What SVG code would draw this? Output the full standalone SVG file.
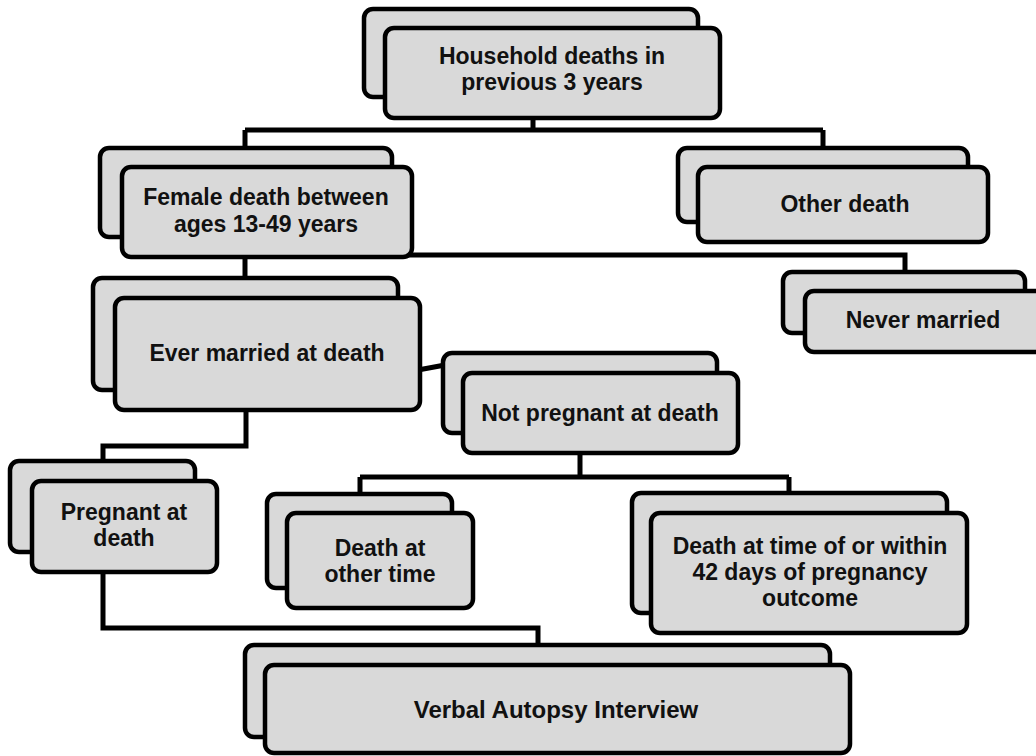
<svg xmlns="http://www.w3.org/2000/svg" width="1036" height="756" viewBox="0 0 1036 756">
<style>
.box{fill:#d9d9d9;stroke:#000;stroke-width:4.5}
.c{fill:none;stroke:#000;stroke-width:5;stroke-linejoin:miter;stroke-linecap:butt}
text{font-family:"Liberation Sans",Arial,sans-serif;font-weight:bold;font-size:23px;fill:#111;text-anchor:middle}
</style>
<rect width="1036" height="756" fill="#fff"/>
<g id="connectors">
<path class="c" d="M533 118V130M245 130H823M245 130V148M823 130V148"/>
<path class="c" d="M245 250V255H905V273"/>
<path class="c" d="M245 257V280"/>
<path class="c" d="M418 370L445 365"/>
<path class="c" d="M246 410V446H103V462"/>
<path class="c" d="M580 453V477M360 477H789M360 477V495M789 477V494"/>
<path class="c" d="M103 572V628H538V646"/>
</g>
<g id="n-household">
<rect class="box" x="364" y="9" width="334" height="88" rx="9"/>
<rect class="box" x="385" y="28" width="335" height="90" rx="9"/>
<text x="552" y="64">Household deaths in</text>
<text x="552" y="90">previous 3 years</text>
</g>
<g id="n-female">
<rect class="box" x="100" y="148" width="292" height="89" rx="9"/>
<rect class="box" x="122" y="167" width="290" height="90" rx="9"/>
<text x="266" y="205">Female death between</text>
<text x="266" y="232">ages 13-49 years</text>
</g>
<g id="n-other">
<rect class="box" x="678" y="148" width="290" height="74" rx="9"/>
<rect class="box" x="698" y="167" width="290" height="75" rx="9"/>
<text x="845" y="212">Other death</text>
</g>
<g id="n-never">
<rect class="box" x="783" y="272" width="242" height="61" rx="9"/>
<rect class="box" x="805" y="291" width="245" height="61" rx="9"/>
<text x="923" y="328">Never married</text>
</g>
<g id="n-ever">
<rect class="box" x="93" y="278" width="305" height="112" rx="9"/>
<rect class="box" x="115" y="298" width="305" height="112" rx="9"/>
<text x="267" y="361">Ever married at death</text>
</g>
<g id="n-notpreg">
<rect class="box" x="443" y="353" width="274" height="80" rx="9"/>
<rect class="box" x="463" y="373" width="275" height="80" rx="9"/>
<text x="600" y="421">Not pregnant at  death</text>
</g>
<g id="n-preg">
<rect class="box" x="10" y="461" width="185" height="91" rx="9"/>
<rect class="box" x="32" y="481" width="185" height="91" rx="9"/>
<text x="124" y="520">Pregnant at</text>
<text x="124" y="546">death</text>
</g>
<g id="n-otherTime">
<rect class="box" x="267" y="494" width="185" height="94" rx="9"/>
<rect class="box" x="287" y="513" width="186" height="95" rx="9"/>
<text x="380" y="556">Death  at</text>
<text x="380" y="582">other time</text>
</g>
<g id="n-within42">
<rect class="box" x="632" y="493" width="315" height="120" rx="9"/>
<rect class="box" x="651" y="513" width="316" height="120" rx="9"/>
<text x="810" y="554">Death at time of or within</text>
<text x="810" y="580">42 days of pregnancy</text>
<text x="810" y="606">outcome</text>
</g>
<g id="n-verbal">
<rect class="box" x="245" y="645" width="585" height="92" rx="9"/>
<rect class="box" x="265" y="665" width="585" height="88" rx="9"/>
<text x="556" y="718" style="font-size:24px">Verbal Autopsy Interview</text>
</g>
</svg>
